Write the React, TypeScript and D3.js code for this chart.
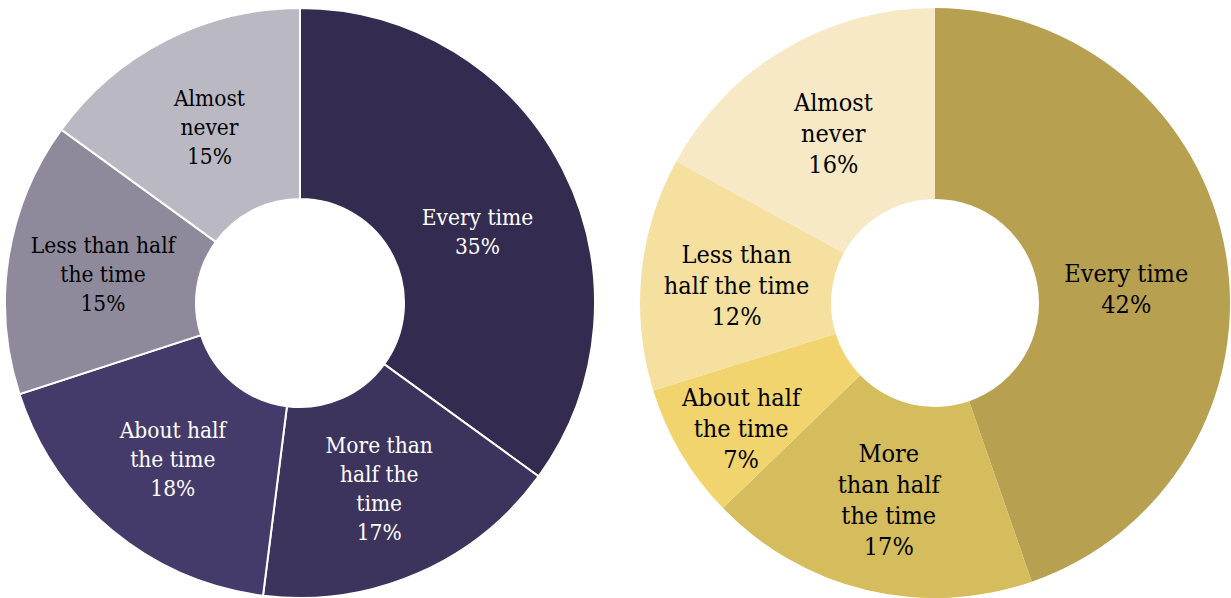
import React from "react";
import * as d3 from "d3";

const categories = ["Every time", "More than half the time", "About half the time", "Less than half the time", "Almost never"];

const leftValues = [35, 17, 18, 15, 15];
const leftLabelLines = [
  ["Every time", "35%"],
  ["More than", "half the", "time", "17%"],
  ["About half", "the time", "18%"],
  ["Less than half", "the time", "15%"],
  ["Almost", "never", "15%"],
];
const leftColors = ["#342B51", "#3D345E", "#453B6A", "#8E8A9C", "#BAB9C3"];
const leftTextColors = ["#FFFFFF", "#FFFFFF", "#FFFFFF", "#000000", "#000000"];

const rightValues = [42, 17, 7, 12, 16];
const rightLabelLines = [
  ["Every time", "42%"],
  ["More", "than half", "the time", "17%"],
  ["About half", "the time", "7%"],
  ["Less than", "half the time", "12%"],
  ["Almost", "never", "16%"],
];
const rightColors = ["#B7A050", "#D5BC5C", "#F2D46E", "#F5E0A0", "#F7E9C5"];
const rightTextColors = ["#000000", "#000000", "#000000", "#000000", "#000000"];

const W = 1231;
const H = 598;
const OUTER = 295;
const INNER = 104;
const FONT = "'DejaVu Serif Condensed', 'DejaVu Serif', serif";

type DonutProps = {
  cx: number;
  cy: number;
  values: number[];
  colors: string[];
  textColors: string[];
  labels: string[][];
  stroke: string;
  strokeWidth: number;
  fontSize: number;
  lineH: number;
};

function Donut({ cx, cy, values, colors, textColors, labels, stroke, strokeWidth, fontSize, lineH }: DonutProps) {
  const pie = d3.pie<number>().sort(null).value((d) => d);
  const arcs = pie(values);
  const arc = d3.arc<d3.PieArcDatum<number>>().innerRadius(INNER).outerRadius(OUTER);
  const maxV = d3.max(values) || 0;
  const bigLabelArc = d3.arc<d3.PieArcDatum<number>>().innerRadius(INNER).outerRadius(OUTER - 15);
  const smallLabelArc = d3.arc<d3.PieArcDatum<number>>().innerRadius(INNER + 60).outerRadius(OUTER);
  return (
    <g transform={`translate(${cx},${cy})`}>
      {arcs.map((a, i) => (
        <path key={categories[i]} d={arc(a) || ""} fill={colors[i]} stroke={stroke} strokeWidth={strokeWidth} />
      ))}
      {arcs.map((a, i) => {
        const isBig = values[i] === maxV;
        const isSmall = a.endAngle - a.startAngle < 0.6;
        let pos: [number, number];
        if (isBig) {
          pos = bigLabelArc.centroid({ ...a, startAngle: a.startAngle + 0.08, endAngle: a.endAngle + 0.08 });
        } else if (isSmall) {
          pos = smallLabelArc.centroid({ ...a, startAngle: a.startAngle - 0.03, endAngle: a.endAngle - 0.03 });
        } else {
          pos = arc.centroid(a);
        }
        const [x, y] = pos;
        const lines = labels[i];
        const y0 = y + 2 - ((lines.length - 1) * lineH) / 2;
        return (
          <text
            key={"t" + i}
            x={x}
            y={y0}
            textAnchor="middle"
            dominantBaseline="central"
            fill={textColors[i]}
            fontFamily={FONT}
            fontStretch="condensed"
            fontSize={fontSize}
          >
            {lines.map((l, j) => (
              <tspan key={j} x={x} y={y0 + j * lineH}>
                {l}
              </tspan>
            ))}
          </text>
        );
      })}
    </g>
  );
}

export default function App() {
  return (
    <svg width={W} height={H} style={{ position: "absolute", left: 0, top: 0, background: "#fff" }}>
      <Donut
        cx={300}
        cy={303}
        values={leftValues}
        colors={leftColors}
        textColors={leftTextColors}
        labels={leftLabelLines}
        stroke="#FFFFFF"
        strokeWidth={2}
        fontSize={22.5}
        lineH={29}
      />
      <Donut
        cx={935}
        cy={303}
        values={rightValues}
        colors={rightColors}
        textColors={rightTextColors}
        labels={rightLabelLines}
        stroke="none"
        strokeWidth={0}
        fontSize={25}
        lineH={31}
      />
    </svg>
  );
}
